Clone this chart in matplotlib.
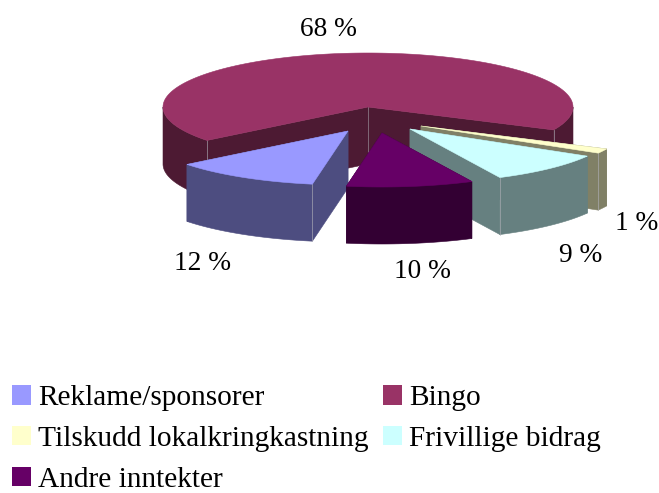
import numpy as np
import matplotlib
matplotlib.use('Agg')
import matplotlib.pyplot as plt
from matplotlib.patches import Patch

# Data
categories = ['Reklame/sponsorer', 'Bingo', 'Tilskudd lokalkringkastning', 'Frivillige bidrag', 'Andre inntekter']
shares = [11.6, 67.6, 1.4, 9.4, 10.0]

# Colours, top face and side face
top_colors = ['#9999FF', '#993366', '#FFFFCC', '#CCFFFF', '#660066']
side_colors = ['#4D4D80', '#4D1A33', '#808066', '#668080', '#330033']

# Layout of the fake 3D pie, in pixels of the figure
center = (368, 107)
rx, ry = 205, 54
depth = 57
start_angle = 190  # clockwise from 12 o'clock
offsets = [(-20, 24), (0, 0), (53, 19), (42, 22), (14, 26)]
draw_order = [1, 2, 3, 0, 4]
label_pos = [(203, 264), (328, 29), (637, 223), (581, 255), (422, 272)]
# which wall edges get the thin light line: 0 = first edge, 1 = last edge
lit_edges = [[0], [0, 1], [1], [1], []]

plt.rcParams['font.family'] = ['Liberation Serif', 'DejaVu Serif']

fig = plt.figure(figsize=(6.59, 4.93), dpi=100)
ax = fig.add_axes([0, 0, 1, 1])
ax.set_xlim(0, 659)
ax.set_ylim(493, 0)
ax.axis('off')


def rim(theta, cx, cy):
    t = np.radians(theta)
    return cx + rx * np.sin(t), cy - ry * np.cos(t)


def extrude(x, y, color, zorder):
    xs = np.concatenate([x, x[::-1]])
    ys = np.concatenate([y, y[::-1] + depth])
    ax.fill(xs, ys, facecolor=color, edgecolor=color, linewidth=0.4, zorder=zorder)


edges = start_angle + np.concatenate([[0], np.cumsum(shares)]) * 3.6

for z, i in enumerate(draw_order):
    a, b = edges[i], edges[i + 1]
    cx = center[0] + offsets[i][0]
    cy = center[1] + offsets[i][1]
    base = z * 10
    thetas = np.linspace(a, b, 200)
    x, y = rim(thetas, cx, cy)

    # cut faces
    extrude(np.array([cx, x[0]]), np.array([cy, y[0]]), side_colors[i], base)
    extrude(np.array([cx, x[-1]]), np.array([cy, y[-1]]), side_colors[i], base)

    # outer wall, only the part facing the viewer
    for k in (-1, 0, 1, 2):
        lo = max(a, 90 + 360 * k)
        hi = min(b, 270 + 360 * k)
        if hi > lo:
            wx, wy = rim(np.linspace(lo, hi, 100), cx, cy)
            extrude(wx, wy, side_colors[i], base + 1)

    # thin light lines where the wall meets the cut faces
    for e in lit_edges[i]:
        ex, ey = rim((a, b)[e], cx, cy)
        ax.plot([ex, ex], [ey, ey + depth], color='#B0B0B8', lw=0.6, alpha=0.7, zorder=base + 2)
    if i == 1:
        ax.plot([cx, cx], [cy, cy + depth], color='#B0B0B8', lw=0.6, alpha=0.6, zorder=base + 2)

    # top
    ax.fill(np.concatenate([[cx], x]), np.concatenate([[cy], y]),
            facecolor=top_colors[i], edgecolor=top_colors[i], linewidth=0.4, zorder=base + 3)

# Percent labels
for i, s in enumerate(shares):
    ax.text(label_pos[i][0], label_pos[i][1], '%.0f %%' % s, fontsize=19.7,
            ha='center', va='center', color='black', zorder=100)

# Legend, matplotlib fills column by column
order = [0, 2, 4, 1, 3]
handles = [Patch(facecolor=top_colors[i], edgecolor='none') for i in order]
labels = [categories[i] for i in order]
ax.legend(handles, labels, ncol=2, frameon=False, fontsize=21.2,
          loc='upper left', bbox_to_anchor=(12, 385), bbox_transform=ax.transData,
          borderpad=0, borderaxespad=0, handlelength=0.645, handleheight=0.645,
          handletextpad=0.24, labelspacing=0.5, columnspacing=0.48)

plt.savefig('out.png', dpi=100)
